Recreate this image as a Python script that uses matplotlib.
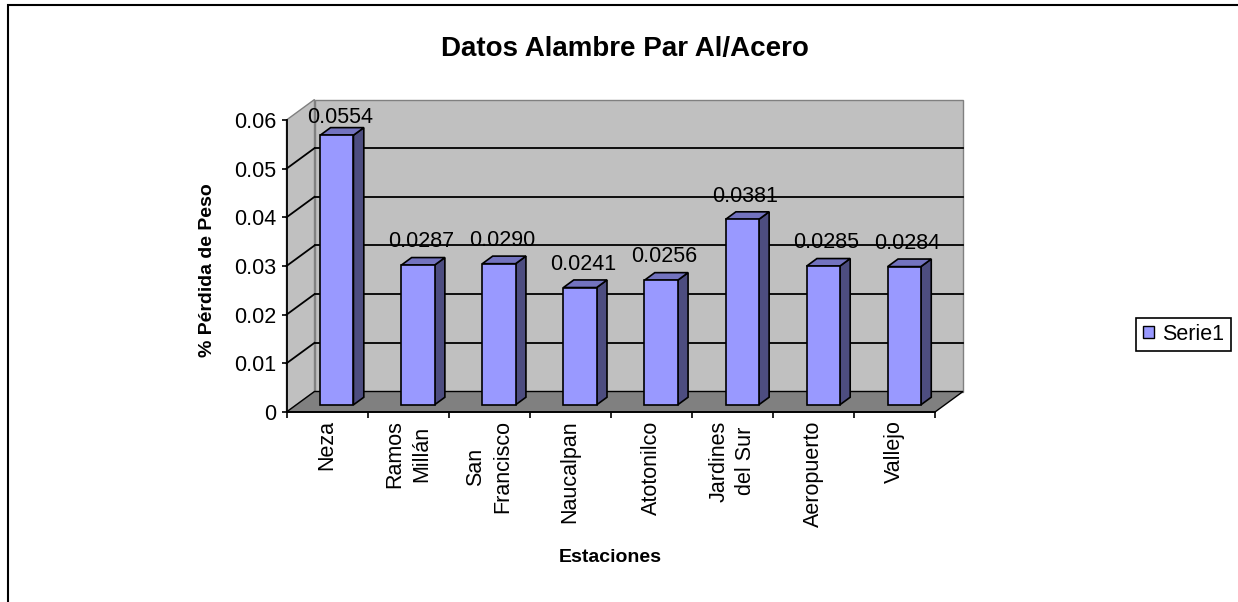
import matplotlib.pyplot as plt
import matplotlib.patches as mpatches
import numpy as np

# Weight loss per station
stations = ['Neza', 'Ramos\nMillán', 'San\nFrancisco', 'Naucalpan', 'Atotonilco',
            'Jardines\ndel Sur', 'Aeropuerto', 'Vallejo']
loss = [0.0554, 0.0287, 0.0290, 0.0241, 0.0256, 0.0381, 0.0285, 0.0284]
y_ticks = [0, 0.01, 0.02, 0.03, 0.04, 0.05, 0.06]
y_ticklabels = ['0', '0.01', '0.02', '0.03', '0.04', '0.05', '0.06']
series_name = 'Serie1'

plt.rcParams['font.family'] = ['Liberation Sans', 'DejaVu Sans']

W, H = 1238, 602
fig = plt.figure(figsize=(W / 100, H / 100), dpi=100)

# front plane of the 3D box, in pixels
left_px, right_px, bottom_px, top_px = 286.5, 935, 412, 120
ax = fig.add_axes([left_px / W, 1 - bottom_px / H,
                   (right_px - left_px) / W, (bottom_px - top_px) / H])
n = len(stations)
ymax = y_ticks[-1]
ax.set_xlim(-0.5, n - 0.5)
ax.set_ylim(0, ymax)

# oblique depth offset converted to data units
px_x = (right_px - left_px) / n
px_y = (bottom_px - top_px) / ymax
DX = 28 / px_x
DY = 20.5 / px_y


def P(x, y, d):
    return (x + d * DX, y + d * DY)


def poly(pts, fc, ec, lw=1.0, z=1):
    ax.add_patch(mpatches.Polygon(pts, closed=True, fc=fc, ec=ec, lw=lw,
                                  clip_on=False, zorder=z))


x_lo, x_hi = -0.5, n - 0.5

# walls and floor
poly([P(x_lo, 0, 0), P(x_lo, ymax, 0), P(x_lo, ymax, 1), P(x_lo, 0, 1)],
     '#C0C0C0', '#808080', 1.0, 0.5)
poly([P(x_lo, 0, 1), P(x_lo, ymax, 1), P(x_hi, ymax, 1), P(x_hi, 0, 1)],
     '#C0C0C0', '#808080', 1.0, 0.5)
poly([P(x_lo, 0, 0), P(x_hi, 0, 0), P(x_hi, 0, 1), P(x_lo, 0, 1)],
     '#808080', 'black', 1.0, 0.6)

# gridlines on back wall and side wall
for v in y_ticks[1:-1]:
    xs, ys = zip(P(x_lo, v, 1), P(x_hi, v, 1))
    ax.plot(xs, ys, color='black', lw=1.3, clip_on=False, zorder=0.7)
    xs, ys = zip(P(x_lo, v, 0), P(x_lo, v, 1))
    ax.plot(xs, ys, color='black', lw=1.3, clip_on=False, zorder=0.7)

# 3D columns
BW = 0.41
F0, F1 = 0.35, 0.72
for i, v in enumerate(loss):
    x0, x1 = i - BW / 2, i + BW / 2
    poly([P(x1, 0, F0), P(x1, v, F0), P(x1, v, F1), P(x1, 0, F1)],
         '#4D4D80', 'black', 1.2, 2)
    poly([P(x0, v, F0), P(x1, v, F0), P(x1, v, F1), P(x0, v, F1)],
         '#7373BF', 'black', 1.2, 2)
    poly([P(x0, 0, F0), P(x0, v, F0), P(x1, v, F0), P(x1, 0, F0)],
         '#9999FF', 'black', 1.2, 2)
    ty = min(v + 25 / px_y, ymax - 3 / px_y)
    ax.text(i + 0.45 * DX, ty, f'{v:.4f}', ha='center', va='baseline',
            fontsize=15.5, clip_on=False, zorder=3)

# axes lines and ticks
for s in ['top', 'right']:
    ax.spines[s].set_visible(False)
for s in ['left', 'bottom']:
    ax.spines[s].set_linewidth(1.3)
    ax.spines[s].set_zorder(1.5)
ax.patch.set_visible(False)

ax.set_yticks(y_ticks, y_ticklabels)
ax.tick_params(axis='y', direction='out', length=3.5, width=1.2, labelsize=15.5, pad=4)

ax.set_xticks(np.arange(n + 1) - 0.5, [''] * (n + 1))
ax.set_xticks(np.arange(n), stations, minor=True)
ax.tick_params(axis='x', which='major', direction='out', length=4.5, width=1.2)
ax.tick_params(axis='x', which='minor', length=0, labelsize=15.5, pad=6,
               labelrotation=90)
for t in ax.get_xticklabels(minor=True):
    t.set_multialignment('center')
    t.set_verticalalignment('top')
    t.set_linespacing(1.35)

# titles
fig.text(625 / W, 1 - 55.7 / H, 'Datos Alambre Par Al/Acero', ha='center',
         va='baseline', fontsize=20, fontweight='bold')
fig.text(207 / W, 1 - 270 / H, '% Pérdida de Peso', ha='center', va='center',
         rotation=90, fontsize=14, fontweight='bold')
fig.text(610 / W, 1 - 557 / H, 'Estaciones', ha='center', va='center',
         fontsize=14, fontweight='bold')

# legend
handle = mpatches.Patch(fc='#9999FF', ec='black', lw=1.0, label=series_name)
leg = fig.legend(handles=[handle], loc='center',
                 bbox_to_anchor=(1183.5 / W, 1 - 334.5 / H), frameon=True,
                 fancybox=False, edgecolor='black', framealpha=1, fontsize=15.5,
                 handlelength=0.5, handleheight=0.5, handletextpad=0.4,
                 borderpad=0.3)
leg.get_frame().set_linewidth(1.2)

# chart border (left and top)
fig.add_artist(mpatches.Rectangle((8 / W, -0.1), 1.2, 1.1 - 5 / H,
                                  transform=fig.transFigure, fill=False,
                                  ec='black', lw=1.5))

fig.savefig('out.png', dpi=100)
